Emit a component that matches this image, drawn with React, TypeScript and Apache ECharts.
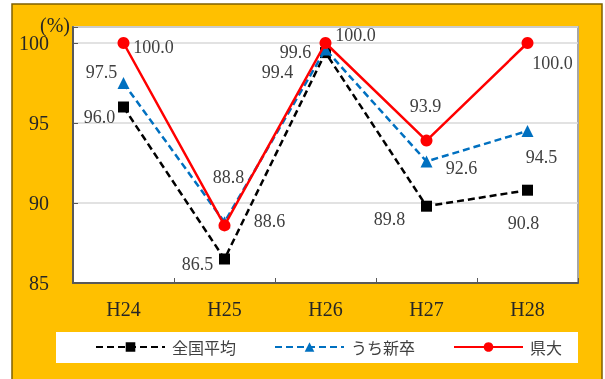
import React, { useEffect, useRef } from "react";
import * as echarts from "echarts";

const categories = ["H24", "H25", "H26", "H27", "H28"];
const seriesNames = ["全国平均", "うち新卒", "県大"];
const nationalAvg = [96.0, 86.5, 99.4, 89.8, 90.8];
const newGrads = [97.5, 88.8, 99.6, 92.6, 94.5];
const prefUniv = [100.0, 88.6, 100.0, 93.9, 100.0];
const yMin = 85;
const yMax = 101;
const yInterval = 5;
const unitLabel = "(%)";

// label offsets (styling only): [dx, dy] from the marker centre
const offsBlack = [[-24, 10], [-27, 5], [-48, 19], [-37, 13], [-4, 33]];
const offsBlue = [[-22, -11], [4, -45], [-30, 3], [35, 7], [14, 26]];
const offsRed = [[30, 4], [45, -4], [30, -8], [-1, -35], [25, 20]];

const SERIF = "'Liberation Serif', 'Times New Roman', serif";
const SANS = "'Noto Sans CJK JP', 'Noto Sans', sans-serif";

function withLabels(values: number[], offs: number[][]) {
  return values.map((v, i) => ({
    value: v,
    label: { offset: offs[i] },
  }));
}

export default function App() {
  const ref = useRef<HTMLDivElement>(null);
  useEffect(() => {
    if (!ref.current) return;
    const chart = echarts.init(ref.current, null, { renderer: "svg" });
    const labelBase = {
      show: true,
      position: "inside",
      formatter: (p: any) => Number(p.value).toFixed(1),
      fontFamily: SERIF,
      fontSize: 18,
      color: "#404040",
    };
    chart.setOption({
      animation: false,
      graphic: [
        {
          type: "rect",
          z: -10,
          shape: { x: 12, y: 4, width: 590, height: 390 },
          style: { fill: "#FFC000", stroke: "#7F6000", lineWidth: 1.5 },
        },
        {
          type: "rect",
          z: -5,
          shape: { x: 56, y: 332, width: 522, height: 31 },
          style: { fill: "#FFFFFF" },
        },
        {
          type: "text",
          x: 55,
          y: 25,
          style: {
            text: unitLabel,
            font: `20px ${SERIF}`,
            fill: "#262626",
            textAlign: "center",
            textVerticalAlign: "middle",
          },
        },
      ],
      grid: {
        left: 73,
        right: 27,
        top: 27,
        bottom: 96,
        show: true,
        backgroundColor: "#FFFFFF",
        borderColor: "#A6A6A6",
        borderWidth: 2,
      },
      legend: {
        left: 95,
        top: 339,
        padding: 0,
        itemWidth: 69,
        itemHeight: 12,
        itemGap: 38,
        data: seriesNames,
        textStyle: { fontFamily: SANS, fontSize: 16, color: "#404040", padding: [0, 0, 0, 2] },
      },
      xAxis: {
        type: "category",
        data: categories,
        boundaryGap: true,
        axisLine: { show: true, lineStyle: { color: "#595959", width: 2 } },
        axisTick: { show: true, inside: true, length: 5, lineStyle: { color: "#595959" } },
        axisLabel: { fontFamily: SERIF, fontSize: 20, color: "#262626", margin: 16 },
        splitLine: { show: false },
      },
      yAxis: {
        type: "value",
        min: yMin,
        max: yMax,
        interval: yInterval,
        axisLine: { show: true, lineStyle: { color: "#595959", width: 2 } },
        axisTick: { show: true, inside: true, length: 5, lineStyle: { color: "#595959" } },
        axisLabel: {
          fontFamily: SERIF,
          fontSize: 20,
          color: "#262626",
          margin: 24,
          formatter: (v: number) => (v % yInterval === 0 ? String(v) : ""),
        },
        splitLine: { show: true, lineStyle: { color: "#D9D9D9", width: 1.5 } },
      },
      series: [
        {
          name: seriesNames[0],
          type: "line",
          data: withLabels(nationalAvg, offsBlack),
          symbol: "rect",
          symbolSize: 11,
          itemStyle: { color: "#000000" },
          lineStyle: { color: "#000000", width: 2.5, type: [7, 4] },
          label: labelBase,
          z: 2,
        },
        {
          name: seriesNames[1],
          type: "line",
          data: withLabels(newGrads, offsBlue),
          symbol: "triangle",
          symbolSize: 12,
          itemStyle: { color: "#0070C0" },
          lineStyle: { color: "#0070C0", width: 2.5, type: [7, 4] },
          label: labelBase,
          z: 3,
        },
        {
          name: seriesNames[2],
          type: "line",
          data: withLabels(prefUniv, offsRed),
          symbol: "circle",
          symbolSize: 12,
          itemStyle: { color: "#FF0000" },
          lineStyle: { color: "#FF0000", width: 2.5 },
          label: labelBase,
          z: 4,
        },
      ],
    });
    return () => chart.dispose();
  }, []);
  return (
    <div
      ref={ref}
      style={{ position: "fixed", left: 0, top: 0, width: 605, height: 379 }}
    />
  );
}
